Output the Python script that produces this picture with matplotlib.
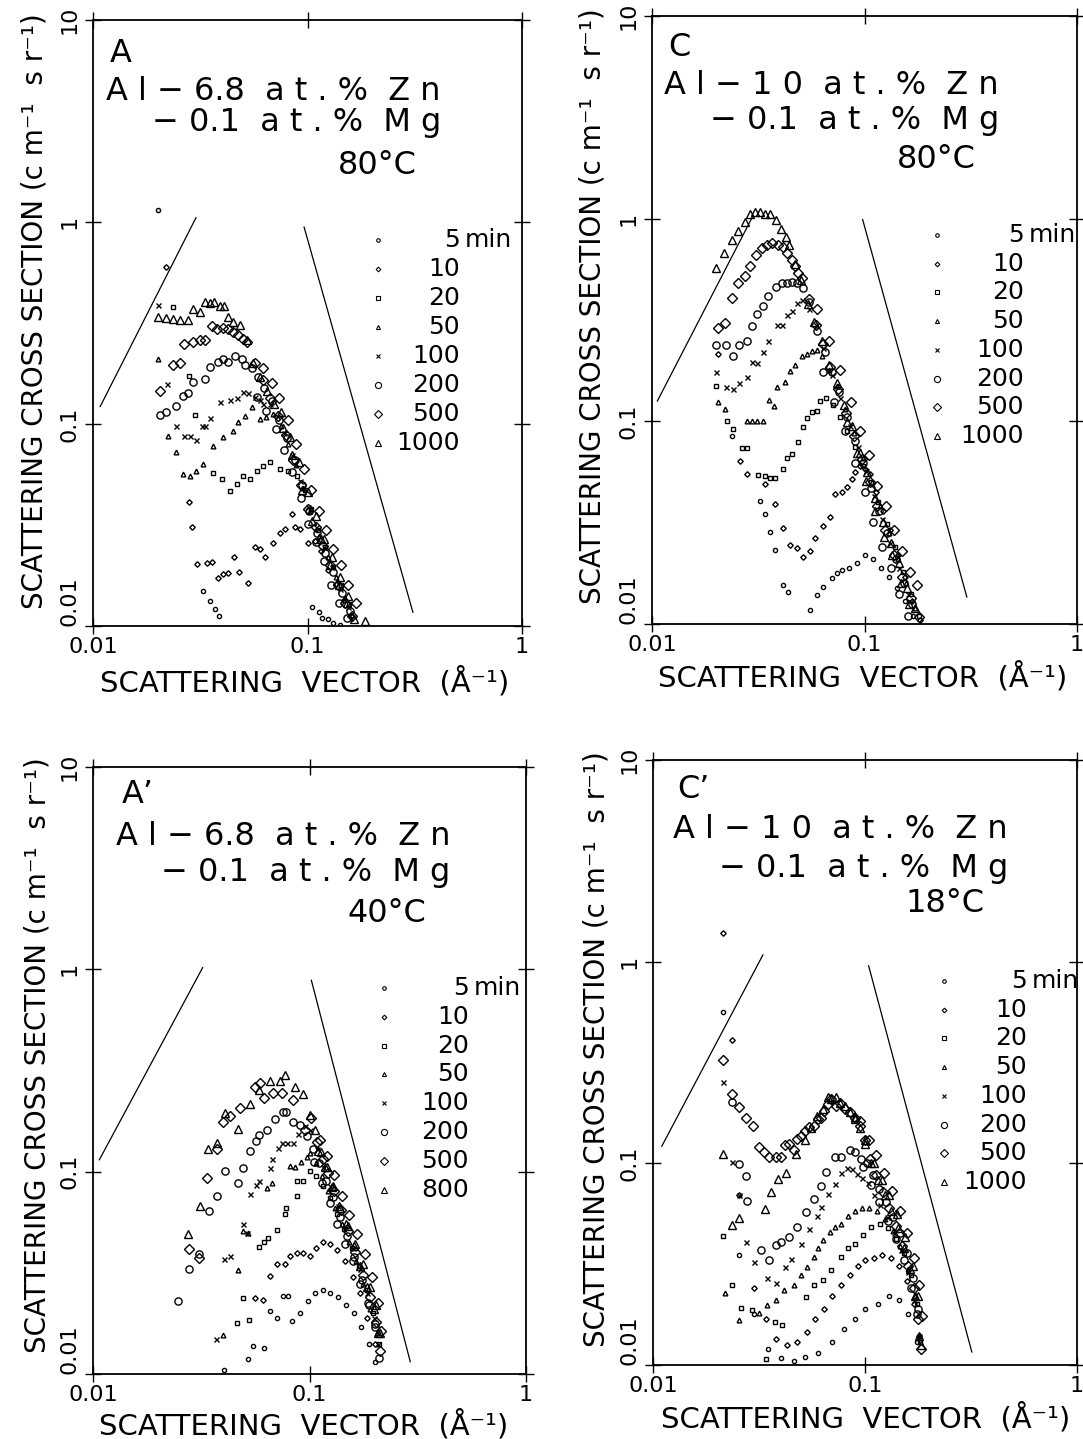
import matplotlib.pyplot as plt
from matplotlib.ticker import NullLocator

plt.rcParams['font.family'] = 'DejaVu Sans'

W, H = 1083, 1439

# aging times (min) and marker style per series
TIMES = ['5', '10', '20', '50', '100', '200', '500', '1000']
TIMES_AP = ['5', '10', '20', '50', '100', '200', '500', '800']
MARKERS = ['o', 'D', 's', '^', 'x', 'o', 'D', '^']
MSIZES = [3.0, 2.8, 3.0, 3.4, 3.6, 5.2, 5.0, 5.8]

# ---------------- panel A : Al-6.8Zn-0.1Mg, 80 C ----------------
A_Q_5 = [0.0201, 0.0326, 0.0351, 0.0370, 0.0387, 0.105, 0.113, 0.117, 0.124, 0.131, 0.142]
A_I_5 = [1.15, 0.0149, 0.0133, 0.0122, 0.0112, 0.0124, 0.0117, 0.0110, 0.0108, 0.0103, 0.0101]
A_Q_10 = [0.0219, 0.0281, 0.0290, 0.0306, 0.0340, 0.0358, 0.0383, 0.0404, 0.0426, 0.0455,
          0.0480, 0.0528, 0.0569, 0.0598, 0.0633, 0.0689, 0.0742, 0.0785, 0.0846, 0.0872,
          0.0922, 0.1005, 0.108, 0.116, 0.125, 0.136, 0.148, 0.160]
A_I_10 = [0.60, 0.041, 0.031, 0.0203, 0.0206, 0.0208, 0.0173, 0.0180, 0.0184, 0.0220,
          0.0185, 0.0164, 0.0247, 0.0241, 0.0220, 0.0259, 0.0290, 0.0301, 0.0357, 0.0310,
          0.0301, 0.0259, 0.0265, 0.0235, 0.0190, 0.0162, 0.0135, 0.0112]
A_Q_20 = [0.0236, 0.0280, 0.0299, 0.0362, 0.0399, 0.0436, 0.0470, 0.0499, 0.0538, 0.0580,
          0.0620, 0.0667, 0.0744, 0.0810, 0.0890, 0.0970, 0.104, 0.112, 0.121, 0.132, 0.144, 0.156]
A_I_20 = [0.38, 0.173, 0.111, 0.0570, 0.0532, 0.0465, 0.0502, 0.0552, 0.0532, 0.0583,
          0.0618, 0.0648, 0.0600, 0.0583, 0.0552, 0.0470, 0.0380, 0.0300, 0.0245, 0.0195, 0.0160, 0.0128]
A_Q_50 = [0.0201, 0.0224, 0.0244, 0.0263, 0.0283, 0.0302, 0.0326, 0.0362, 0.0404, 0.0450,
          0.0475, 0.0510, 0.0550, 0.0598, 0.0640, 0.0690, 0.0750, 0.0810, 0.0880, 0.0950,
          0.103, 0.113, 0.124, 0.136, 0.149, 0.162]
A_I_50 = [0.21, 0.087, 0.0726, 0.0564, 0.0553, 0.0585, 0.0632, 0.0779, 0.0860, 0.0922,
          0.102, 0.109, 0.122, 0.106, 0.108, 0.112, 0.098, 0.080, 0.063, 0.048,
          0.037, 0.028, 0.022, 0.0175, 0.0138, 0.0113]
A_Q_100 = [0.0201, 0.0221, 0.0244, 0.0266, 0.0283, 0.0302, 0.0322, 0.0333, 0.0351, 0.0390,
           0.0436, 0.0470, 0.0500, 0.0528, 0.0569, 0.0600, 0.0620, 0.0670, 0.0720, 0.0780,
           0.0850, 0.0920, 0.100, 0.109, 0.119, 0.130, 0.142, 0.155]
A_I_100 = [0.39, 0.158, 0.098, 0.087, 0.087, 0.083, 0.098, 0.098, 0.107, 0.128,
           0.131, 0.135, 0.144, 0.142, 0.136, 0.132, 0.126, 0.125, 0.110, 0.090,
           0.070, 0.052, 0.039, 0.031, 0.0245, 0.0195, 0.0152, 0.0124]
A_Q_200 = [0.0205, 0.0219, 0.0244, 0.0263, 0.0277, 0.0292, 0.0333, 0.0351, 0.0382, 0.0404,
           0.0426, 0.0459, 0.0495, 0.0510, 0.0550, 0.0590, 0.0630, 0.0680, 0.0740, 0.0800,
           0.0870, 0.0940, 0.102, 0.111, 0.121, 0.132, 0.145, 0.158,
           0.058, 0.064, 0.071, 0.078, 0.085, 0.093, 0.101, 0.110, 0.119, 0.129, 0.140, 0.152]
A_I_200 = [0.111, 0.115, 0.123, 0.138, 0.143, 0.162, 0.167, 0.192, 0.203, 0.210,
           0.203, 0.218, 0.210, 0.195, 0.190, 0.170, 0.150, 0.130, 0.105, 0.085,
           0.066, 0.050, 0.037, 0.029, 0.023, 0.0185, 0.0145, 0.0118,
           0.136, 0.116, 0.094, 0.074, 0.058, 0.043, 0.032, 0.026, 0.021, 0.016, 0.013, 0.011]
A_Q_500 = [0.0205, 0.0236, 0.0255, 0.0266, 0.0292, 0.0315, 0.0333, 0.0359, 0.0379, 0.0404,
           0.0426, 0.0450, 0.0475, 0.0500, 0.0523, 0.0570, 0.0620, 0.0670, 0.0730, 0.0790,
           0.0860, 0.0930, 0.101, 0.109, 0.118, 0.128, 0.139, 0.150, 0.162,
           0.062, 0.068, 0.074, 0.081, 0.088, 0.096, 0.104, 0.113, 0.122, 0.132, 0.143, 0.155, 0.168]
A_I_500 = [0.146, 0.196, 0.200, 0.250, 0.255, 0.260, 0.262, 0.307, 0.297, 0.300,
           0.297, 0.287, 0.275, 0.265, 0.256, 0.200, 0.165, 0.135, 0.110, 0.088,
           0.066, 0.050, 0.038, 0.031, 0.025, 0.020, 0.016, 0.013, 0.0112,
           0.190, 0.160, 0.135, 0.105, 0.080, 0.060, 0.047, 0.037, 0.030, 0.024, 0.020, 0.016, 0.013]
A_Q_1000 = [0.0201, 0.0219, 0.0236, 0.0255, 0.0277, 0.0292, 0.0315, 0.0333, 0.0352, 0.0367,
            0.0390, 0.0408, 0.0426, 0.0450, 0.0485, 0.0520, 0.0560, 0.0600, 0.0650, 0.0700,
            0.0770, 0.0850, 0.0940, 0.105, 0.115, 0.128, 0.140, 0.152, 0.165, 0.185,
            0.075, 0.083, 0.091, 0.100, 0.110, 0.120, 0.130, 0.142, 0.155]
A_I_1000 = [0.340, 0.333, 0.330, 0.327, 0.327, 0.373, 0.357, 0.400, 0.395, 0.400,
            0.386, 0.386, 0.340, 0.320, 0.310, 0.260, 0.200, 0.170, 0.145, 0.125,
            0.095, 0.070, 0.047, 0.033, 0.027, 0.020, 0.016, 0.013, 0.0108, 0.0106,
            0.115, 0.086, 0.065, 0.046, 0.035, 0.027, 0.022, 0.0175, 0.014]

# ---------------- panel C : Al-10Zn-0.1Mg, 80 C ----------------
C_Q_5 = [0.0238, 0.0323, 0.0341, 0.0360, 0.0380, 0.0414, 0.0438, 0.0556, 0.0598, 0.0641,
         0.0705, 0.0745, 0.0787, 0.0847, 0.0920, 0.100, 0.110, 0.120, 0.130, 0.142, 0.155, 0.170]
C_I_5 = [0.085, 0.0403, 0.0347, 0.0283, 0.0233, 0.0156, 0.0144, 0.0117, 0.0139, 0.0153,
         0.0169, 0.0179, 0.0185, 0.0190, 0.0200, 0.0220, 0.0210, 0.0190, 0.0170, 0.0150, 0.0130, 0.0110]
C_Q_10 = [0.0205, 0.0260, 0.0280, 0.0341, 0.0380, 0.0414, 0.0447, 0.0483, 0.0515, 0.0555,
          0.0587, 0.0641, 0.0691, 0.0730, 0.0787, 0.0829, 0.0874, 0.0902, 0.0950, 0.100,
          0.106, 0.113, 0.122, 0.132, 0.143, 0.155, 0.168, 0.182]
C_I_10 = [0.216, 0.0637, 0.0548, 0.0490, 0.0390, 0.0299, 0.0246, 0.0238, 0.0215, 0.0228,
          0.0267, 0.0303, 0.0336, 0.0436, 0.0447, 0.0473, 0.0518, 0.0562, 0.0600, 0.0580,
          0.0550, 0.0450, 0.0360, 0.0290, 0.0220, 0.0170, 0.0130, 0.0105]
C_Q_20 = [0.0200, 0.0226, 0.0241, 0.0266, 0.0280, 0.0316, 0.0341, 0.0360, 0.0380, 0.0414,
          0.0432, 0.0457, 0.0488, 0.0515, 0.0538, 0.0567, 0.0598, 0.0620, 0.0660, 0.0710,
          0.0770, 0.0830, 0.0900, 0.0980, 0.107, 0.116, 0.127, 0.139, 0.152, 0.166, 0.180]
C_I_20 = [0.150, 0.100, 0.0918, 0.0740, 0.0740, 0.0543, 0.0536, 0.0524, 0.0524, 0.0580,
          0.0660, 0.0690, 0.0790, 0.0940, 0.104, 0.111, 0.113, 0.126, 0.130, 0.120,
          0.105, 0.090, 0.075, 0.060, 0.050, 0.040, 0.031, 0.024, 0.018, 0.014, 0.011]
C_Q_50 = [0.0204, 0.0221, 0.0280, 0.0296, 0.0312, 0.0334, 0.0356, 0.0376, 0.0388, 0.0424,
          0.0447, 0.0472, 0.0510, 0.0538, 0.0567, 0.0598, 0.0633, 0.0680, 0.0740, 0.0810,
          0.0890, 0.0980, 0.108, 0.118, 0.130, 0.143, 0.157, 0.172]
C_I_50 = [0.125, 0.115, 0.100, 0.100, 0.100, 0.100, 0.128, 0.119, 0.147, 0.157,
          0.178, 0.189, 0.209, 0.216, 0.222, 0.224, 0.209, 0.180, 0.150, 0.115,
          0.088, 0.066, 0.050, 0.038, 0.028, 0.021, 0.016, 0.012]
C_Q_100 = [0.0200, 0.0223, 0.0241, 0.0257, 0.0280, 0.0296, 0.0312, 0.0334, 0.0352, 0.0388,
           0.0410, 0.0432, 0.0457, 0.0480, 0.0510, 0.0550, 0.0590, 0.0640, 0.0700, 0.0770,
           0.0850, 0.0930, 0.102, 0.111, 0.121, 0.132, 0.145, 0.160]
C_I_100 = [0.176, 0.147, 0.144, 0.155, 0.166, 0.197, 0.195, 0.221, 0.248, 0.298,
           0.300, 0.334, 0.349, 0.383, 0.396, 0.360, 0.300, 0.230, 0.170, 0.130,
           0.095, 0.075, 0.057, 0.043, 0.033, 0.025, 0.019, 0.014]
C_Q_200 = [0.0200, 0.0223, 0.0241, 0.0257, 0.0280, 0.0296, 0.0312, 0.0334, 0.0352, 0.0384,
           0.0410, 0.0432, 0.0457, 0.0480, 0.0515, 0.0550, 0.0600, 0.0650, 0.0700, 0.0760,
           0.0830, 0.0900, 0.0980, 0.107, 0.117, 0.128, 0.140, 0.153, 0.168,
           0.064, 0.072, 0.081, 0.090, 0.100, 0.110, 0.121, 0.133, 0.146, 0.160]
C_I_200 = [0.237, 0.237, 0.209, 0.237, 0.248, 0.294, 0.338, 0.370, 0.415, 0.460,
           0.481, 0.481, 0.487, 0.481, 0.455, 0.390, 0.280, 0.220, 0.175, 0.140,
           0.105, 0.080, 0.062, 0.047, 0.036, 0.028, 0.021, 0.016, 0.0125,
           0.176, 0.124, 0.090, 0.062, 0.045, 0.032, 0.024, 0.019, 0.014, 0.011]
C_Q_500 = [0.0205, 0.0221, 0.0238, 0.0255, 0.0275, 0.0290, 0.0310, 0.0330, 0.0349, 0.0368,
           0.0392, 0.0414, 0.0432, 0.0457, 0.0472, 0.0488, 0.0510, 0.0550, 0.0590, 0.0640,
           0.0690, 0.0750, 0.0820, 0.0890, 0.0970, 0.106, 0.115, 0.125, 0.137, 0.150, 0.165, 0.180,
           0.060, 0.068, 0.077, 0.086, 0.095, 0.105, 0.115, 0.126, 0.138, 0.150, 0.163, 0.176]
C_I_500 = [0.290, 0.305, 0.405, 0.481, 0.521, 0.585, 0.662, 0.718, 0.743, 0.760,
           0.743, 0.726, 0.678, 0.626, 0.585, 0.540, 0.510, 0.400, 0.300, 0.240,
           0.185, 0.145, 0.110, 0.085, 0.065, 0.050, 0.038, 0.029, 0.022, 0.017, 0.0135, 0.0108,
           0.360, 0.250, 0.180, 0.125, 0.090, 0.068, 0.048, 0.038, 0.029, 0.023, 0.018, 0.0155]
C_Q_1000 = [0.0200, 0.0219, 0.0238, 0.0255, 0.0275, 0.0290, 0.0306, 0.0323, 0.0341, 0.0360,
            0.0385, 0.0406, 0.0428, 0.0442, 0.0470, 0.0500, 0.0540, 0.0580, 0.0630, 0.0680,
            0.0740, 0.0800, 0.0870, 0.0950, 0.103, 0.112, 0.122, 0.133, 0.145, 0.158, 0.172,
            0.083, 0.092, 0.102, 0.112, 0.123, 0.135, 0.148, 0.162]
C_I_1000 = [0.571, 0.678, 0.787, 0.871, 0.966, 1.06, 1.08, 1.08, 1.06, 1.05,
            0.990, 0.894, 0.815, 0.743, 0.600, 0.500, 0.380, 0.310, 0.250, 0.190,
            0.155, 0.120, 0.095, 0.070, 0.056, 0.042, 0.032, 0.025, 0.020, 0.015, 0.012,
            0.099, 0.070, 0.051, 0.036, 0.027, 0.022, 0.016, 0.0126]

# ---------------- panel A' : Al-6.8Zn-0.1Mg, 40 C ----------------
AP_Q_5 = [0.0402, 0.0518, 0.0550, 0.0614, 0.0654, 0.0705, 0.0751, 0.0795, 0.0830, 0.0900,
          0.0980, 0.106, 0.115, 0.125, 0.136, 0.148, 0.160, 0.173, 0.188, 0.200]
AP_I_5 = [0.0105, 0.0119, 0.0138, 0.0135, 0.0205, 0.0189, 0.0243, 0.0243, 0.0183, 0.0200,
          0.0230, 0.0250, 0.0260, 0.0250, 0.0240, 0.0220, 0.0200, 0.0170, 0.0140, 0.0115]
AP_Q_10 = [0.0558, 0.0612, 0.0654, 0.0705, 0.0767, 0.0810, 0.0871, 0.0929, 0.100, 0.107,
           0.115, 0.124, 0.134, 0.146, 0.158, 0.171, 0.185, 0.200]
AP_I_10 = [0.0238, 0.0233, 0.0306, 0.0351, 0.0351, 0.0384, 0.0397, 0.0397, 0.0384, 0.0420,
           0.0450, 0.0440, 0.0410, 0.0360, 0.0300, 0.0250, 0.0190, 0.0140]
AP_Q_20 = [0.0461, 0.0491, 0.0523, 0.0582, 0.0619, 0.0646, 0.0705, 0.0767, 0.0775, 0.0871,
           0.0880, 0.0929, 0.100, 0.107, 0.115, 0.124, 0.134, 0.145, 0.157, 0.170, 0.184, 0.197, 0.210]
AP_I_20 = [0.0179, 0.0238, 0.0185, 0.0426, 0.0450, 0.0471, 0.0516, 0.0620, 0.0664, 0.0760,
           0.0902, 0.0902, 0.101, 0.095, 0.085, 0.074, 0.062, 0.052, 0.042, 0.034, 0.026, 0.020, 0.014]
AP_Q_50 = [0.0397, 0.0465, 0.0491, 0.0520, 0.0634, 0.0668, 0.0810, 0.0853, 0.0918, 0.0970,
           0.100, 0.107, 0.114, 0.122, 0.131, 0.141, 0.152, 0.164, 0.177, 0.191, 0.204]
AP_I_50 = [0.0156, 0.0327, 0.0510, 0.0499, 0.0834, 0.0883, 0.107, 0.105, 0.111, 0.118,
           0.123, 0.110, 0.095, 0.080, 0.066, 0.055, 0.045, 0.036, 0.028, 0.021, 0.016]
AP_Q_100 = [0.0369, 0.0402, 0.0428, 0.0491, 0.0512, 0.0530, 0.0564, 0.0582, 0.0654, 0.0668,
            0.0713, 0.0743, 0.0784, 0.0835, 0.0881, 0.0949, 0.101, 0.108, 0.116, 0.125,
            0.135, 0.146, 0.158, 0.171, 0.185, 0.198, 0.208]
AP_I_100 = [0.0149, 0.0371, 0.0384, 0.0553, 0.0499, 0.0778, 0.0863, 0.0902, 0.104, 0.116,
            0.131, 0.139, 0.138, 0.138, 0.154, 0.169, 0.160, 0.130, 0.105, 0.085,
            0.068, 0.054, 0.042, 0.033, 0.025, 0.019, 0.014]
AP_Q_200 = [0.0247, 0.0277, 0.0308, 0.0343, 0.0373, 0.0405, 0.0465, 0.0491, 0.0530, 0.0564,
            0.0582, 0.0634, 0.0690, 0.0751, 0.0776, 0.0835, 0.0900, 0.0970, 0.104, 0.111,
            0.119, 0.128, 0.138, 0.149, 0.161, 0.174, 0.188, 0.200, 0.210,
            0.105, 0.114, 0.124, 0.134, 0.146, 0.158, 0.172, 0.186, 0.200]
AP_I_200 = [0.0230, 0.0331, 0.0393, 0.0641, 0.0760, 0.101, 0.0883, 0.104, 0.127, 0.142,
            0.151, 0.160, 0.183, 0.198, 0.198, 0.175, 0.170, 0.150, 0.130, 0.110,
            0.090, 0.075, 0.060, 0.048, 0.038, 0.029, 0.022, 0.017, 0.012,
            0.112, 0.088, 0.070, 0.055, 0.044, 0.036, 0.028, 0.0224, 0.0176]
AP_Q_500 = [0.0277, 0.0308, 0.0335, 0.0373, 0.0397, 0.0428, 0.0475, 0.0558, 0.0588, 0.0619,
            0.0675, 0.0743, 0.0835, 0.0949, 0.102, 0.108, 0.115, 0.122, 0.130, 0.140,
            0.151, 0.163, 0.176, 0.190, 0.203, 0.212,
            0.112, 0.120, 0.130, 0.141, 0.153, 0.166, 0.180, 0.195, 0.208, 0.215]
AP_I_500 = [0.0416, 0.0375, 0.0933, 0.130, 0.175, 0.189, 0.207, 0.261, 0.273, 0.232,
            0.246, 0.246, 0.225, 0.160, 0.185, 0.140, 0.115, 0.098, 0.080, 0.065,
            0.051, 0.040, 0.031, 0.024, 0.018, 0.013,
            0.144, 0.119, 0.096, 0.076, 0.061, 0.049, 0.039, 0.030, 0.0225, 0.0163]
AP_Q_800 = [0.0274, 0.0311, 0.0339, 0.0373, 0.0405, 0.0465, 0.0530, 0.0582, 0.0654, 0.0728,
            0.0767, 0.0853, 0.0929, 0.100, 0.106, 0.113, 0.120, 0.128, 0.137, 0.148,
            0.160, 0.172, 0.185, 0.198, 0.207,
            0.110, 0.118, 0.127, 0.138, 0.150, 0.162, 0.176, 0.190, 0.203, 0.212]
AP_I_800 = [0.0493, 0.0679, 0.130, 0.139, 0.196, 0.163, 0.217, 0.252, 0.282, 0.282,
            0.299, 0.261, 0.243, 0.190, 0.160, 0.125, 0.105, 0.085, 0.068, 0.055,
            0.043, 0.034, 0.027, 0.021, 0.016,
            0.126, 0.105, 0.084, 0.066, 0.054, 0.044, 0.035, 0.027, 0.022, 0.016]

# ---------------- panel C' : Al-10Zn-0.1Mg, 18 C ----------------
CP_Q_5 = [0.0215, 0.0255, 0.0300, 0.0350, 0.0400, 0.0460, 0.0520, 0.0600, 0.0700, 0.0800,
          0.0900, 0.100, 0.115, 0.130, 0.145, 0.160, 0.175]
CP_I_5 = [0.563, 0.0350, 0.0180, 0.0120, 0.0108, 0.0105, 0.0110, 0.0115, 0.0130, 0.0150,
          0.0170, 0.0190, 0.0200, 0.0220, 0.0210, 0.0180, 0.0130]
CP_Q_10 = [0.0215, 0.0237, 0.0255, 0.0300, 0.0340, 0.0380, 0.0430, 0.0480, 0.0530, 0.0580,
           0.0640, 0.0700, 0.0770, 0.0850, 0.0930, 0.100, 0.110, 0.120, 0.132, 0.145,
           0.158, 0.170, 0.180]
CP_I_10 = [1.39, 0.409, 0.0700, 0.0240, 0.0170, 0.0135, 0.0125, 0.0130, 0.0145, 0.0170,
           0.0190, 0.0220, 0.0250, 0.0280, 0.0310, 0.0330, 0.0340, 0.0350, 0.0340, 0.0310,
           0.0260, 0.0200, 0.0140]
CP_Q_20 = [0.0215, 0.0237, 0.0260, 0.0293, 0.0340, 0.0376, 0.0405, 0.0525, 0.0572, 0.0636,
           0.0693, 0.0771, 0.0832, 0.0897, 0.0980, 0.1065, 0.1175, 0.128, 0.140, 0.152,
           0.165, 0.176, 0.182]
CP_I_20 = [0.0434, 0.0250, 0.0192, 0.0188, 0.0107, 0.0164, 0.0158, 0.0218, 0.0250, 0.0265,
           0.0297, 0.0345, 0.0382, 0.0396, 0.0440, 0.0486, 0.0498, 0.0480, 0.0420, 0.0360,
           0.0280, 0.0200, 0.0130]
CP_Q_50 = [0.0218, 0.0255, 0.0316, 0.0344, 0.0380, 0.0414, 0.0461, 0.0497, 0.0535, 0.0572,
           0.0603, 0.0636, 0.0687, 0.0724, 0.0771, 0.0830, 0.0900, 0.0970, 0.105, 0.114,
           0.124, 0.135, 0.147, 0.160, 0.172, 0.180]
CP_I_50 = [0.0228, 0.0167, 0.0182, 0.0199, 0.0211, 0.0236, 0.0250, 0.0281, 0.0307, 0.0345,
           0.0382, 0.0419, 0.0459, 0.0486, 0.0498, 0.0550, 0.0580, 0.0600, 0.0600, 0.0580,
           0.0530, 0.0460, 0.0390, 0.0300, 0.0220, 0.0140]
CP_Q_100 = [0.0215, 0.0237, 0.0255, 0.0275, 0.0300, 0.0344, 0.0380, 0.0418, 0.0446, 0.0500,
            0.0545, 0.0591, 0.0617, 0.0671, 0.0724, 0.0771, 0.0820, 0.0867, 0.0915, 0.0970,
            0.103, 0.110, 0.118, 0.127, 0.137, 0.148, 0.160, 0.171, 0.180]
CP_I_100 = [0.253, 0.101, 0.0700, 0.0405, 0.0325, 0.0271, 0.0256, 0.0307, 0.0337, 0.0400,
            0.0470, 0.0545, 0.0610, 0.0701, 0.0787, 0.0892, 0.0945, 0.0935, 0.0882, 0.0850,
            0.0800, 0.0700, 0.0620, 0.0540, 0.0450, 0.0370, 0.0290, 0.0210, 0.0140]
CP_Q_200 = [0.0237, 0.0255, 0.0275, 0.0278, 0.0323, 0.0352, 0.0380, 0.0401, 0.0437, 0.0476,
            0.0525, 0.0572, 0.0617, 0.0657, 0.0724, 0.0771, 0.0851, 0.0897, 0.0958, 0.102,
            0.109, 0.117, 0.126, 0.136, 0.146, 0.157, 0.168, 0.177,
            0.098, 0.107, 0.117, 0.128, 0.140, 0.152, 0.165, 0.175]
CP_I_200 = [0.201, 0.099, 0.087, 0.0647, 0.0373, 0.0333, 0.0395, 0.0405, 0.0429, 0.0486,
            0.0571, 0.0662, 0.0769, 0.0902, 0.107, 0.108, 0.117, 0.114, 0.105, 0.100,
            0.088, 0.075, 0.064, 0.054, 0.045, 0.036, 0.027, 0.019,
            0.096, 0.078, 0.064, 0.052, 0.042, 0.033, 0.024, 0.018]
CP_Q_500 = [0.0215, 0.0237, 0.0255, 0.0275, 0.0297, 0.0316, 0.0334, 0.0352, 0.0380, 0.0401,
            0.0418, 0.0437, 0.0461, 0.0476, 0.0497, 0.0519, 0.0542, 0.0572, 0.0597, 0.0623,
            0.0643, 0.0671, 0.0693, 0.0732, 0.0764, 0.0807, 0.0851, 0.0897, 0.0948, 0.100,
            0.106, 0.113, 0.121, 0.130, 0.140, 0.150, 0.160, 0.170, 0.178, 0.183,
            0.095, 0.104, 0.113, 0.123, 0.134, 0.146, 0.158, 0.170, 0.180, 0.186]
CP_I_500 = [0.325, 0.220, 0.190, 0.168, 0.153, 0.120, 0.114, 0.107, 0.108, 0.108,
            0.123, 0.124, 0.117, 0.132, 0.136, 0.144, 0.151, 0.154, 0.166, 0.168,
            0.182, 0.197, 0.208, 0.192, 0.200, 0.186, 0.180, 0.168, 0.153, 0.130,
            0.105, 0.088, 0.072, 0.060, 0.049, 0.039, 0.031, 0.024, 0.017, 0.012,
            0.163, 0.131, 0.110, 0.090, 0.073, 0.058, 0.045, 0.034, 0.025, 0.0175]
CP_Q_1000 = [0.0215, 0.0237, 0.0255, 0.0337, 0.0360, 0.0388, 0.0423, 0.0471, 0.0520, 0.0555,
             0.0591, 0.0636, 0.0671, 0.0693, 0.0732, 0.0764, 0.0807, 0.0851, 0.0900, 0.0950,
             0.100, 0.107, 0.115, 0.124, 0.133, 0.143, 0.153, 0.163, 0.172, 0.180,
             0.090, 0.100, 0.110, 0.120, 0.130, 0.142, 0.155, 0.168, 0.178, 0.184]
CP_I_1000 = [0.111, 0.0497, 0.0538, 0.0597, 0.0718, 0.0832, 0.0892, 0.111, 0.130, 0.150,
             0.171, 0.186, 0.213, 0.208, 0.213, 0.200, 0.192, 0.180, 0.165, 0.150,
             0.125, 0.100, 0.083, 0.070, 0.058, 0.048, 0.038, 0.030, 0.022, 0.014,
             0.170, 0.130, 0.100, 0.083, 0.070, 0.056, 0.043, 0.031, 0.022, 0.0125]

# guide lines (q^2 on the left, q^-4 on the right): end points
A_GUIDE_Q = [[0.0108, 0.0302], [0.0964, 0.310]]
A_GUIDE_I = [[0.122, 1.05], [0.944, 0.0117]]
C_GUIDE_Q = [[0.0106, 0.0299], [0.098, 0.303]]
C_GUIDE_I = [[0.126, 1.035], [0.99, 0.0136]]
AP_GUIDE_Q = [[0.0107, 0.0321], [0.102, 0.292]]
AP_GUIDE_I = [[0.1145, 1.02], [0.883, 0.0115]]
CP_GUIDE_Q = [[0.0110, 0.0330], [0.104, 0.319]]
CP_GUIDE_I = [[0.1216, 1.08], [0.955, 0.0116]]

# panel captions
A_TEXT = ['A', 'A l − 6.8  a t . %  Z n', '− 0.1  a t . %  M g', '80°C']
C_TEXT = ['C', 'A l − 1 0  a t . %  Z n', '− 0.1  a t . %  M g', '80°C']
AP_TEXT = ['A’', 'A l − 6.8  a t . %  Z n', '− 0.1  a t . %  M g', '40°C']
CP_TEXT = ['C’', 'A l − 1 0  a t . %  Z n', '− 0.1  a t . %  M g', '18°C']

X_TICKS = [0.01, 0.1, 1]
X_TICKLABELS = ['0.01', '0.1', '1']
Y_TICKS = [0.01, 0.1, 1, 10]
Y_TICKLABELS = ['0.01', '0.1', '1', '10']

YLABEL = 'SCATTERING CROSS SECTION (c m⁻¹  s r⁻¹)'
XLABEL = 'SCATTERING  VECTOR  (Å⁻¹)'

panels = [
    dict(box=(93, 20, 522, 626), times=TIMES, text=A_TEXT,
         q=[A_Q_5, A_Q_10, A_Q_20, A_Q_50, A_Q_100, A_Q_200, A_Q_500, A_Q_1000],
         i=[A_I_5, A_I_10, A_I_20, A_I_50, A_I_100, A_I_200, A_I_500, A_I_1000],
         gq=A_GUIDE_Q, gi=A_GUIDE_I,
         txt=(110, 53, 441, 91, 123, 417, 165),
         leg=(378, 240, 29, 460), ylab=(35, 311), xlab=(305, 682)),
    dict(box=(652, 16, 1077, 624), times=TIMES, text=C_TEXT,
         q=[C_Q_5, C_Q_10, C_Q_20, C_Q_50, C_Q_100, C_Q_200, C_Q_500, C_Q_1000],
         i=[C_I_5, C_I_10, C_I_20, C_I_50, C_I_100, C_I_200, C_I_500, C_I_1000],
         gq=C_GUIDE_Q, gi=C_GUIDE_I,
         txt=(668, 47, 999, 86, 121, 976, 159),
         leg=(937, 235, 28.7, 1024), ylab=(592, 306), xlab=(863, 677)),
    dict(box=(93, 767, 526, 1374), times=TIMES_AP, text=AP_TEXT,
         q=[AP_Q_5, AP_Q_10, AP_Q_20, AP_Q_50, AP_Q_100, AP_Q_200, AP_Q_500, AP_Q_800],
         i=[AP_I_5, AP_I_10, AP_I_20, AP_I_50, AP_I_100, AP_I_200, AP_I_500, AP_I_800],
         gq=AP_GUIDE_Q, gi=AP_GUIDE_I,
         txt=(122, 795, 450, 837, 873, 426, 913),
         leg=(384, 988, 28.8, 469), ylab=(38, 1055), xlab=(304, 1425)),
    dict(box=(653, 760, 1077, 1365), times=TIMES, text=CP_TEXT,
         q=[CP_Q_5, CP_Q_10, CP_Q_20, CP_Q_50, CP_Q_100, CP_Q_200, CP_Q_500, CP_Q_1000],
         i=[CP_I_5, CP_I_10, CP_I_20, CP_I_50, CP_I_100, CP_I_200, CP_I_500, CP_I_1000],
         gq=CP_GUIDE_Q, gi=CP_GUIDE_I,
         txt=(677, 790, 1008, 829, 868, 984, 904),
         leg=(944, 981, 28.7, 1027), ylab=(597, 1049), xlab=(866, 1418)),
]


def fx(x):
    return x / W


def fy(y):
    return 1 - y / H


fig = plt.figure(figsize=(W / 100, H / 100), dpi=100)

for p in panels:
    l, t, r, b = p['box']
    ax = fig.add_axes([fx(l), fy(b), (r - l) / W, (b - t) / H])
    ax.set_xscale('log')
    ax.set_yscale('log')
    ax.set_xlim(0.01, 1)
    ax.set_ylim(0.01, 10)

    for k in range(8):
        ax.plot(p['q'][k], p['i'][k], linestyle='none', marker=MARKERS[k],
                ms=MSIZES[k], mfc='none', mec='black', mew=1.0)

    for gq, gi in zip(p['gq'], p['gi']):
        ax.plot(gq, gi, color='black', lw=0.9)

    ax.set_xticks(X_TICKS)
    ax.set_xticklabels(X_TICKLABELS)
    ax.set_yticks(Y_TICKS)
    ax.set_yticklabels(Y_TICKLABELS, rotation=90, va='center')
    # bottom y label sits just above the corner, clear of the x label
    ax.get_yticklabels()[0].set_va('bottom')
    ax.xaxis.set_minor_locator(NullLocator())
    ax.yaxis.set_minor_locator(NullLocator())
    ax.tick_params(direction='inout', length=12, width=1.0, top=True, right=True,
                   labelsize=16)
    ax.tick_params(axis='x', pad=2)
    ax.tick_params(axis='y', pad=4)
    for s in ax.spines.values():
        s.set_linewidth(1.3)

    # caption text (figure pixel positions)
    x0, y0, xr, y1, y2, xt, y3 = p['txt']
    fig.text(fx(x0), fy(y0), p['text'][0], fontsize=23, ha='left', va='center')
    fig.text(fx(xr), fy(y1), p['text'][1], fontsize=23, ha='right', va='center')
    fig.text(fx(xr), fy(y2), p['text'][2], fontsize=23, ha='right', va='center')
    fig.text(fx(xt), fy(y3), p['text'][3], fontsize=23, ha='right', va='center')

    # legend column
    mx, my, dy, nr = p['leg']
    for k in range(8):
        yy = my + k * dy
        ax.plot([fx(mx)], [fy(yy)], transform=fig.transFigure, linestyle='none',
                marker=MARKERS[k], ms=MSIZES[k] * 0.85, mfc='none', mec='black', mew=0.8,
                clip_on=False)
        fig.text(fx(nr), fy(yy), p['times'][k], fontsize=18, ha='right', va='center')
    fig.text(fx(nr + 5), fy(my), 'min', fontsize=18, ha='left', va='center')

    fig.text(fx(p['ylab'][0]), fy(p['ylab'][1]), YLABEL, fontsize=20,
             rotation=90, ha='center', va='center')
    fig.text(fx(p['xlab'][0]), fy(p['xlab'][1]), XLABEL, fontsize=21,
             ha='center', va='center')

fig.savefig('out.png', dpi=100)
